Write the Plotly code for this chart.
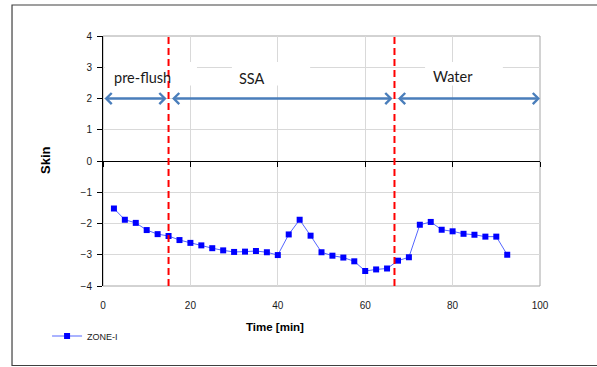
import plotly.graph_objects as go

# Skin factor of ZONE-I versus elapsed time
time_min = [2.5, 5, 7.5, 10, 12.5, 15, 17.5, 20, 22.5, 25, 27.5, 30, 32.5, 35, 37.5,
            40, 42.5, 45, 47.5, 50, 52.5, 55, 57.5, 60, 62.5, 65, 67.5, 70, 72.5,
            75, 77.5, 80, 82.5, 85, 87.5, 90, 92.5]
skin = [-1.52, -1.88, -1.98, -2.21, -2.34, -2.40, -2.53, -2.62, -2.70, -2.79, -2.86,
        -2.91, -2.90, -2.88, -2.92, -3.01, -2.35, -1.88, -2.39, -2.92, -3.03, -3.09,
        -3.21, -3.52, -3.47, -3.44, -3.19, -3.08, -2.04, -1.95, -2.20, -2.25, -2.33,
        -2.36, -2.42, -2.42, -3.00]

# Injection phases: boundaries (min) and names
phase_bounds = [0, 15, 66.7, 100]
phase_names = ["pre-flush", "SSA", "Water"]
phase_label_x = [9.0, 34.1, 80.0]
phase_label_y = [2.66, 2.64, 2.72]
arrow_level = 2

x_ticks = [0, 20, 40, 60, 80, 100]
y_ticks = [-4, -3, -2, -1, 0, 1, 2, 3, 4]

AX_FONT = "Liberation Sans, Arial, sans-serif"
GRID = "#d9d9d9"
ARROW = "#4a7ebb"

fig = go.Figure()

fig.add_trace(go.Scatter(
    x=time_min, y=skin, mode="lines+markers", name="ZONE-I",
    line=dict(color="#5566ff", width=1),
    marker=dict(symbol="square", size=6, color="#0000ff"),
))
# empty trace so the axis crossing at zero is laid out
fig.add_trace(go.Scatter(x=[], y=[], xaxis="x2", showlegend=False, hoverinfo="skip"))

shapes = []
# plot area border
shapes.append(dict(type="rect", xref="paper", yref="paper", x0=0, x1=1, y0=0, y1=1,
                   line=dict(color="#a6a6a6", width=1), layer="between"))
# chart border
shapes.append(dict(type="rect", xref="paper", yref="paper", x0=-0.2082, x1=1.25,
                   y0=-0.318, y1=1.124, line=dict(color="#404040", width=1.2)))
# white text boxes behind the phase names
box_x = [(0.4, 21.5), (29.5, 47.4), (73.7, 91.5)]
for (bx0, bx1) in box_x:
    shapes.append(dict(type="rect", xref="x", yref="y", x0=bx0, x1=bx1, y0=2.42, y1=3.17,
                       fillcolor="white", line=dict(width=0), layer="between"))
# phase boundaries
for xb in phase_bounds[1:-1]:
    shapes.append(dict(type="line", xref="x", yref="paper", x0=xb, x1=xb, y0=0, y1=1,
                       line=dict(color="#ff0000", width=2, dash="7px,4px")))

annotations = []
for i, name in enumerate(phase_names):
    x0, x1 = phase_bounds[i], phase_bounds[i + 1]
    annotations.append(dict(
        x=x1, y=arrow_level, ax=x0, ay=arrow_level, xref="x", yref="y",
        axref="x", ayref="y", text="", showarrow=True, arrowside="end+start",
        arrowhead=4, startarrowhead=4, arrowsize=0.85, startarrowsize=0.85,
        arrowwidth=2.5, arrowcolor=ARROW,
        standoff=0 if i == len(phase_names) - 1 else 2,
        startstandoff=0 if i == 0 else 2,
    ))
    annotations.append(dict(
        x=phase_label_x[i], y=phase_label_y[i], xref="x", yref="y", text=name,
        showarrow=False, font=dict(family="Lato, Carlito, sans-serif", size=14.5, color="#1a1a1a"),
    ))

# axis titles
annotations.append(dict(x=(45 - 103) / 437, y=(286 - 160) / 250, xref="paper", yref="paper",
                        xanchor="center", yanchor="middle", text="<b>Skin</b>",
                        textangle=-90, showarrow=False,
                        font=dict(family=AX_FONT, size=13, color="#000000")))
annotations.append(dict(x=(275 - 103) / 437, y=(286 - 326.5) / 250, xref="paper", yref="paper",
                        xanchor="center", yanchor="middle",
                        text="<b>Time [min]</b>", showarrow=False,
                        font=dict(family=AX_FONT, size=11.5, color="#000000")))

fig.update_layout(
    width=597, height=367,
    margin=dict(l=103, r=57, t=36, b=81, pad=0),
    paper_bgcolor="white", plot_bgcolor="white",
    font=dict(family=AX_FONT, size=10, color="#1a1a1a"),
    xaxis=dict(range=[0, 100], tickvals=x_ticks, showgrid=True, gridcolor=GRID, gridwidth=1,
               showline=False, zeroline=False, ticks="", ticklabelstandoff=12,
               tickfont=dict(size=10)),
    xaxis2=dict(range=[0, 100], tickvals=x_ticks, overlaying="x", anchor="free", position=0.5,
                showline=True, linecolor="#000000", linewidth=1, ticks="outside", ticklen=5,
                tickcolor="#000000", showticklabels=False, showgrid=False, zeroline=False),
    yaxis=dict(range=[-4, 4], tickvals=y_ticks, showgrid=True, gridcolor=GRID, gridwidth=1,
               showline=True, linecolor="#000000", linewidth=1, ticks="outside", ticklen=5,
               tickcolor="#000000", zeroline=False, ticklabelstandoff=3,
               tickfont=dict(size=10)),
    legend=dict(x=-0.128, y=-0.2, xanchor="left", yanchor="middle",
                font=dict(family=AX_FONT, size=9, color="#1a1a1a"),
                bgcolor="rgba(0,0,0,0)", borderwidth=0),
    showlegend=True,
    shapes=shapes,
    annotations=annotations,
)

fig.write_html("out.html")
